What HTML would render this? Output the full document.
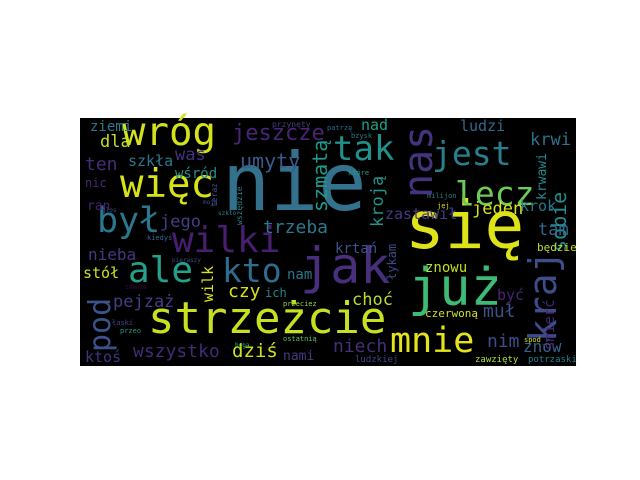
<!DOCTYPE html>
<html><head><meta charset="utf-8">
<style>
html,body{margin:0;padding:0;background:#fff;width:640px;height:480px;overflow:hidden}
svg{position:absolute;left:0;top:0}
text{font-family:"DejaVu Sans Mono","Liberation Mono",monospace}
</style></head>
<body>
<svg id="wc" width="640" height="480" xmlns="http://www.w3.org/2000/svg">
<rect x="80" y="118" width="496" height="248" fill="#000"/>
</svg>
<script>
// word, x, baseline y, font size, color, rotated
const words = [
["nie",222,210,80,"#33718d",0],["się",405,248,66,"#dde318",0],["jak",300,283,50,"#472f7d",0],
["już",408,305,52,"#3bbb75",0],["strzeżcie",148,333,44,"#c8e020",0],["mnie",390,352,35,"#e5e419",0],
["wróg",122,145,39,"#d2e21b",0],["więc",120,197,39,"#d8e219",0],["wilki",172,252,36,"#481f70",0],
["ale",128,282,36,"#25a08a",0],["kto",222,282,33,"#2f6c8e",0],["był",97,232,35,"#2a788e",0],
["jest",432,165,33,"#2a7f8e",0],["tak",333,160,34,"#21918c",0],["nas",432,198,40,"#46337e",1],
["lecz",455,205,33,"#6ccd5a",0],["kraj",556,342,38,"#3e4c8a",1],["pod",110,352,30,"#3b528b",1],
["jeszcze",232,140,22,"#482576",0],["umyty",240,168,20,"#365c8d",0],["szmatą",327,212,20,"#1f9a8a",1],
["trzeba",263,233,18,"#2a788e",0],["krwi",530,145,17,"#2c728e",0],["sobie",566,252,20,"#228c8d",1],
["ludzi",460,131,15,"#31688e",0],["nad",361,130,15,"#1fa088",0],["krwawi",546,200,13,"#23888e",1],
["jeden",472,214,17,"#d5e21a",0],["zastawił",385,219,15,"#443983",0],["kroją",383,227,17,"#1f958b",1],
["krok",520,211,15,"#2a788e",0],["tam",538,235,17,"#31688e",0],["łykam",396,280,12,"#3e4a89",1],
["krtań",335,253,14,"#3b528b",0],["będzie",537,251,11,"#bddf26",0],["znowu",425,272,14,"#c2df23",0],
["choć",352,305,17,"#b8de29",0],["być",497,300,15,"#482475",0],["czerwoną",425,317,11,"#d0e11c",0],
["muł",483,317,18,"#3b528b",0],["nim",487,347,18,"#3e4a89",0],["niech",333,352,18,"#472d7b",0],
["znów",523,352,16,"#33638d",0],["śmierć",554,350,14,"#482878",1],["zawzięty",475,362,9,"#b5de2b",0],
["ludzkiej",355,362,9,"#414487",0],["potrzaski",528,362,9,"#25838e",0],["ziemi",90,131,14,"#2a788e",0],
["dla",100,147,17,"#c0df25",0],["ten",85,170,18,"#472c7a",0],["szkła",128,166,15,"#2a788e",0],
["was",175,160,17,"#46307e",0],["wśród",175,178,14,"#228c8d",0],["nic",85,187,12,"#482878",0],
["ran",87,210,13,"#482173",0],["jego",160,227,17,"#433e85",0],["nieba",88,260,16,"#453781",0],
["stół",83,278,15,"#cde11d",0],["nam",287,279,14,"#2a788e",0],["wilk",213,302,15,"#d8e219",1],
["czy",228,297,18,"#d5e21a",0],["ich",265,297,12,"#25838e",0],["pejzaż",113,307,17,"#433d84",0],
["wszystko",133,357,18,"#482878",0],["dziś",232,357,19,"#d0e11c",0],["nami",283,360,13,"#443a83",0],
["ktoś",85,362,15,"#46327e",0],["przeciez",283,306,7,"#8fd744",0],["ostatnią",283,341,7,"#5ec962",0],
["przynęty",272,127,8,"#433e85",0],["teraz",217,207,8,"#3b528b",1],["wszędzie",242,225,8,"#25838e",1],
["milijon",427,198,7,"#2a788e",0],["jej",437,208,7,"#d8e219",0],["spod",524,342,7,"#d0e11c",0],
["łaski",112,325,7,"#414487",0],["przeo",120,333,7,"#1f9e89",0],["patrzę",327,130,7,"#31688e",0],
["bzysk",351,138,7,"#2a788e",0],["które",348,175,7,"#1f9e89",0],["kiedyś",147,240,7,"#31688e",0],
["zdanie",125,289,6,"#440154",0],["boga",235,347,6,"#35b779",0],["moją",203,204,6,"#3e4989",0],
["glos",102,212,6,"#3b528b",0],["pieraszy",172,262,6,"#3e4989",0],["szkło",218,215,6,"#26828e",0]
];
const svg=document.getElementById('wc');
const NS="http://www.w3.org/2000/svg";
words.forEach(w=>{
  const t=document.createElementNS(NS,'text');
  t.textContent=w[0];
  t.setAttribute('font-size',w[3]);
  t.setAttribute('fill',w[4]);
  if(w[5]){t.setAttribute('transform','translate('+w[1]+','+w[2]+') rotate(-90)');}
  else{t.setAttribute('x',w[1]);t.setAttribute('y',w[2]);}
  
  
  svg.appendChild(t);
});
</script>
</body></html>
